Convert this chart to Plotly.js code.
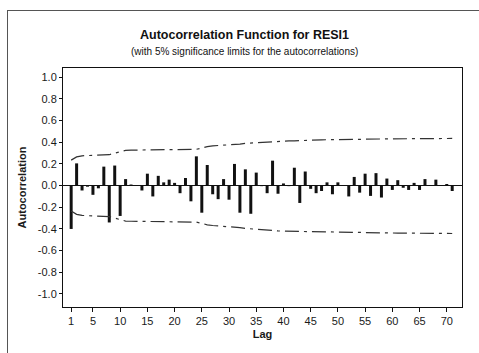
<!DOCTYPE html>
<html>
<head>
<meta charset="utf-8">
<script src="https://cdn.plot.ly/plotly-3.0.1.min.js"></script>
<style>
  html, body { margin: 0; padding: 0; background: #ffffff; }
  #wrap { position: relative; width: 479px; height: 353px; overflow: hidden; background: #fff; }
  #frame { position: absolute; left: 7px; top: 10px; width: 500px; height: 400px;
           border-left: 1px solid #555; border-top: 1px solid #555; }
  #chart { position: absolute; left: 0; top: 0; width: 479px; height: 353px; }
</style>
</head>
<body>
<div id="wrap">
  <div id="chart"></div>
  <div id="frame"></div>
</div>
<script>
// Lags
const lags = [1,2,3,4,5,6,7,8,9,10,11,12,13,14,15,16,17,18,19,20,
  21,22,23,24,25,26,27,28,29,30,31,32,33,34,35,36,37,38,39,40,
  41,42,43,44,45,46,47,48,49,50,51,52,53,54,55,56,57,58,59,60,
  61,62,63,64,65,66,67,68,69,70,71];

// Autocorrelation at each lag
const acf = [-0.40,0.205,-0.045,-0.01,-0.085,-0.025,0.175,-0.34,0.185,-0.28,
  0.06,0.01,0.005,-0.045,0.11,-0.10,0.09,0.03,0.055,0.025,
  -0.07,0.07,-0.145,0.27,-0.25,0.19,-0.08,-0.125,0.06,-0.13,
  0.20,-0.25,0.15,-0.26,0.12,-0.005,-0.07,0.23,-0.075,0.02,
  -0.005,0.165,-0.16,0.13,-0.03,-0.07,-0.05,0.03,-0.08,0.03,
  0.005,-0.10,0.08,-0.065,0.11,-0.095,0.115,-0.11,0.065,-0.04,
  0.05,-0.02,-0.04,0.025,-0.04,0.06,0.005,0.055,0.005,0.015,-0.05];

// 5% significance limits
const upperLimit = [0.235,0.265,0.275,0.278,0.28,0.28,0.282,0.285,0.30,0.312,
  0.325,0.327,0.328,0.328,0.329,0.33,0.33,0.331,0.331,0.332,
  0.332,0.333,0.333,0.335,0.345,0.36,0.367,0.37,0.372,0.373,
  0.375,0.382,0.39,0.393,0.40,0.403,0.404,0.405,0.41,0.412,
  0.412,0.413,0.416,0.419,0.421,0.421,0.422,0.423,0.423,0.424,
  0.425,0.425,0.426,0.427,0.427,0.428,0.429,0.43,0.431,0.431,
  0.431,0.432,0.432,0.432,0.433,0.433,0.434,0.434,0.434,0.434,0.435];
const lowerLimit = [-0.235,-0.265,-0.275,-0.278,-0.28,-0.28,-0.283,-0.287,-0.30,-0.315,
  -0.327,-0.329,-0.33,-0.33,-0.331,-0.332,-0.332,-0.333,-0.333,-0.334,
  -0.334,-0.335,-0.335,-0.337,-0.348,-0.362,-0.368,-0.372,-0.375,-0.377,
  -0.38,-0.388,-0.395,-0.40,-0.405,-0.41,-0.412,-0.414,-0.418,-0.42,
  -0.421,-0.422,-0.425,-0.427,-0.428,-0.429,-0.43,-0.43,-0.431,-0.431,
  -0.432,-0.432,-0.433,-0.433,-0.434,-0.434,-0.435,-0.436,-0.437,-0.437,
  -0.438,-0.438,-0.439,-0.439,-0.44,-0.44,-0.44,-0.441,-0.441,-0.442,-0.442];

const xTicks = [1,5,10,15,20,25,30,35,40,45,50,55,60,65,70];
const yTicks = [-1.0,-0.8,-0.6,-0.4,-0.2,0.0,0.2,0.4,0.6,0.8,1.0];
const yTickText = ['-1.0','-0.8','-0.6','-0.4','-0.2','0.0','0.2','0.4','0.6','0.8','1.0'];

const FONT = 'Liberation Sans, Arial, sans-serif';
const limitLine = { color: '#333333', width: 1.2, dash: '14px,5px,3px,5px' };

const traces = [
  { type: 'bar', x: lags, y: acf, width: 0.55,
    marker: { color: '#111111', line: { width: 0 } }, hoverinfo: 'x+y' },
  { type: 'scatter', mode: 'lines', x: lags, y: upperLimit, line: limitLine, hoverinfo: 'skip' },
  { type: 'scatter', mode: 'lines', x: lags, y: lowerLimit, line: limitLine, hoverinfo: 'skip' }
];

const layout = {
  width: 479, height: 353,
  margin: { l: 63, r: 17, t: 68, b: 46 },
  paper_bgcolor: 'rgba(0,0,0,0)', plot_bgcolor: '#ffffff',
  showlegend: false,
  font: { family: FONT, size: 11, color: '#1a1a1a' },
  xaxis: {
    range: [-0.5, 72.8], tickmode: 'array', tickvals: xTicks,
    ticks: 'outside', ticklen: 4, tickcolor: '#111', tickwidth: 1,
    showgrid: false, zeroline: false,
    showline: true, linecolor: '#111', linewidth: 1, mirror: true,
    tickfont: { family: FONT, size: 11, color: '#1a1a1a' },
    title: { text: '<b>Lag</b>', font: { family: FONT, size: 11, color: '#1a1a1a' }, standoff: 4 }
  },
  yaxis: {
    range: [-1.12, 1.085], tickmode: 'array', tickvals: yTicks, ticktext: yTickText,
    ticks: 'outside', ticklen: 3, tickcolor: '#111', tickwidth: 1,
    showgrid: false, zeroline: true, zerolinecolor: '#111', zerolinewidth: 1,
    showline: true, linecolor: '#111', linewidth: 1, mirror: true,
    tickfont: { family: FONT, size: 11, color: '#1a1a1a' },
    title: { text: '<b>Autocorrelation</b>', font: { family: FONT, size: 11, color: '#1a1a1a' }, standoff: 8 }
  },
  annotations: [
    { xref: 'paper', yref: 'paper', x: 0.456, y: 1.0, yshift: 33, xanchor: 'center', yanchor: 'middle',
      text: '<b>Autocorrelation Function for RESI1</b>', showarrow: false,
      font: { family: FONT, size: 12.5, color: '#111' } },
    { xref: 'paper', yref: 'paper', x: 0.456, y: 1.0, yshift: 17, xanchor: 'center', yanchor: 'middle',
      text: '(with 5% significance limits for the autocorrelations)', showarrow: false,
      font: { family: FONT, size: 10, color: '#111' } }
  ]
};

Plotly.newPlot('chart', traces, layout, { displayModeBar: false, staticPlot: true });
</script>
</body>
</html>
